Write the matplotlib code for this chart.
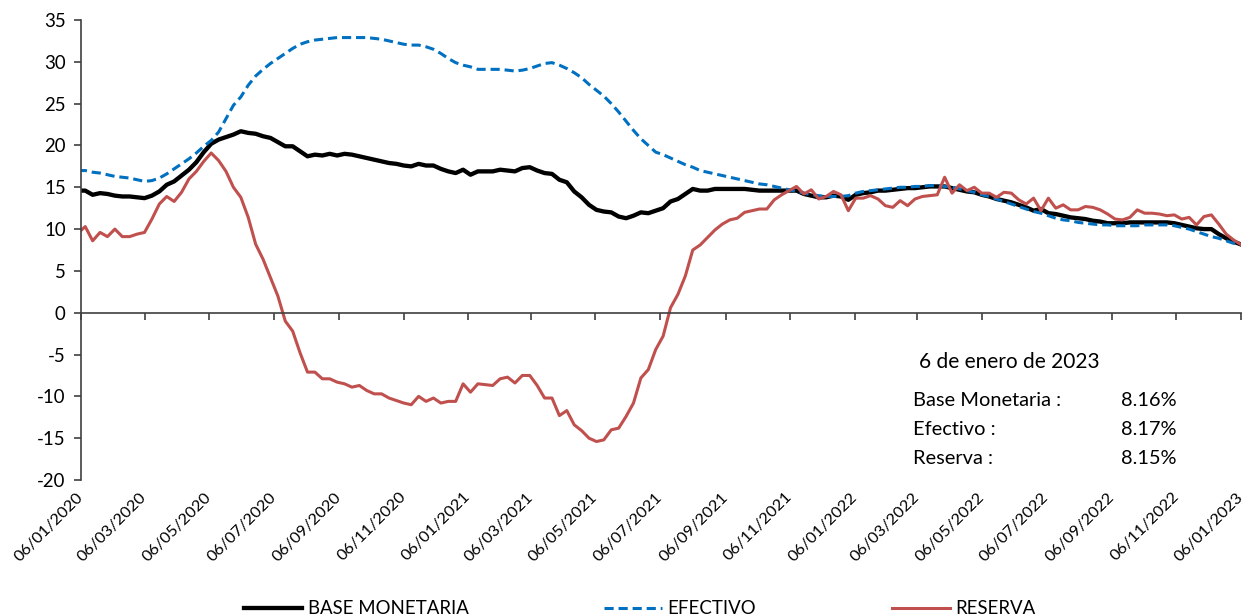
import numpy as np
import pandas as pd
import matplotlib
matplotlib.use("Agg")
import matplotlib.pyplot as plt
import matplotlib.dates as mdates
from matplotlib.lines import Line2D
import matplotlib.transforms as mtransforms

plt.rcParams['font.family'] = ['Lato', 'DejaVu Sans']
plt.rcParams['axes.unicode_minus'] = False

# variacion anual (%), datos semanales
fechas = pd.date_range('2020-01-03', '2023-01-06', freq='7D')

base_monetaria = [
    14.6, 14.6, 14.1, 14.3, 14.2, 14.0, 13.9, 13.9, 13.8, 13.7,
    14.0, 14.5, 15.3, 15.7, 16.4, 17.1, 18.0, 19.2, 20.2, 20.7,
    21.0, 21.3, 21.7, 21.5, 21.4, 21.1, 20.9, 20.4, 19.9, 19.9,
    19.3, 18.7, 18.9, 18.8, 19.0, 18.8, 19.0, 18.9, 18.7, 18.5,
    18.3, 18.1, 17.9, 17.8, 17.6, 17.5, 17.8, 17.6, 17.6, 17.2,
    16.9, 16.7, 17.1, 16.5, 16.9, 16.9, 16.9, 17.1, 17.0, 16.9,
    17.3, 17.4, 17.0, 16.7, 16.6, 15.9, 15.6, 14.5, 13.8, 12.9,
    12.3, 12.1, 12.0, 11.5, 11.3, 11.6, 12.0, 11.9, 12.2, 12.5,
    13.3, 13.6, 14.2, 14.8, 14.6, 14.6, 14.8, 14.8, 14.8, 14.8,
    14.8, 14.7, 14.6, 14.6, 14.6, 14.6, 14.6, 14.6, 14.2, 14.0,
    13.8, 13.8, 14.0, 13.9, 13.5, 14.1, 14.3, 14.4, 14.6, 14.6,
    14.7, 14.8, 14.9, 14.9, 15.0, 15.1, 15.1, 15.1, 14.9, 14.7,
    14.5, 14.4, 14.1, 13.9, 13.6, 13.4, 13.2, 12.9, 12.6, 12.2,
    12.4, 11.9, 11.8, 11.6, 11.4, 11.3, 11.2, 11.0, 10.9, 10.7,
    10.7, 10.7, 10.8, 10.8, 10.8, 10.8, 10.8, 10.8, 10.7, 10.5,
    10.3, 10.1, 10.0, 10.0, 9.4, 8.9, 8.5, 8.16]

efectivo = [
    17.0, 17.0, 16.8, 16.7, 16.5, 16.3, 16.2, 16.1, 15.9, 15.7,
    15.8, 16.1, 16.6, 17.2, 17.8, 18.4, 19.1, 19.9, 20.6, 21.6,
    23.2, 24.8, 25.8, 27.2, 28.3, 29.1, 29.8, 30.4, 31.0, 31.6,
    32.1, 32.4, 32.6, 32.7, 32.8, 32.9, 32.9, 32.9, 32.9, 32.9,
    32.8, 32.7, 32.5, 32.3, 32.1, 32.0, 32.0, 31.8, 31.5, 31.0,
    30.4, 29.9, 29.6, 29.4, 29.1, 29.1, 29.1, 29.1, 29.0, 28.9,
    29.0, 29.2, 29.5, 29.8, 29.9, 29.6, 29.2, 28.7, 28.1, 27.3,
    26.6, 25.9, 25.0, 24.0, 22.9, 21.8, 20.8, 20.0, 19.2, 18.9,
    18.5, 18.1, 17.7, 17.4, 17.0, 16.8, 16.6, 16.4, 16.2, 16.0,
    15.8, 15.6, 15.4, 15.3, 15.1, 14.9, 14.7, 14.5, 14.3, 14.1,
    14.0, 13.9, 13.9, 13.9, 14.0, 14.3, 14.5, 14.6, 14.7, 14.8,
    14.9, 15.0, 15.0, 15.1, 15.1, 15.2, 15.2, 15.1, 15.0, 14.8,
    14.6, 14.4, 14.1, 13.9, 13.6, 13.3, 13.0, 12.7, 12.4, 12.1,
    11.9, 11.6, 11.3, 11.1, 11.0, 10.8, 10.7, 10.6, 10.5, 10.5,
    10.4, 10.4, 10.4, 10.4, 10.5, 10.5, 10.5, 10.5, 10.4, 10.2,
    10.0, 9.7, 9.4, 9.1, 8.9, 8.6, 8.3, 8.17]

reserva = [
    9.5, 10.3, 8.6, 9.6, 9.1, 10.0, 9.1, 9.1, 9.4, 9.6,
    11.2, 13.0, 13.9, 13.3, 14.4, 16.0, 16.9, 18.1, 19.1, 18.2,
    16.9, 15.0, 13.8, 11.4, 8.2, 6.4, 4.2, 2.0, -1.0, -2.2,
    -4.8, -7.1, -7.1, -7.9, -7.9, -8.3, -8.5, -8.9, -8.7, -9.3,
    -9.7, -9.7, -10.2, -10.5, -10.8, -11.0, -10.0, -10.6, -10.2, -10.8,
    -10.6, -10.6, -8.5, -9.5, -8.5, -8.6, -8.7, -7.9, -7.7, -8.4,
    -7.5, -7.5, -8.7, -10.2, -10.2, -12.3, -11.7, -13.4, -14.1, -15.0,
    -15.4, -15.2, -14.0, -13.8, -12.4, -10.8, -7.8, -6.8, -4.4, -2.8,
    0.6, 2.2, 4.4, 7.5, 8.1, 9.0, 9.9, 10.6, 11.1, 11.3,
    12.0, 12.2, 12.4, 12.4, 13.5, 14.1, 14.6, 15.1, 14.2, 14.7,
    13.6, 13.9, 14.5, 14.1, 12.2, 13.7, 13.7, 14.0, 13.6, 12.8,
    12.6, 13.4, 12.8, 13.6, 13.9, 14.0, 14.1, 16.2, 14.3, 15.3,
    14.6, 15.0, 14.3, 14.3, 13.8, 14.4, 14.3, 13.5, 13.0, 13.7,
    12.2, 13.7, 12.5, 12.9, 12.3, 12.3, 12.7, 12.6, 12.3, 11.8,
    11.2, 11.1, 11.4, 12.3, 11.9, 11.9, 11.8, 11.6, 11.7, 11.2,
    11.4, 10.5, 11.5, 11.7, 10.6, 9.4, 8.7, 8.15]

fechas_ticks = pd.date_range('2020-01-01', '2023-01-01', freq='2MS') + pd.Timedelta(days=5)
etiquetas = [d.strftime('%d/%m/%Y') for d in fechas_ticks]

fig = plt.figure(figsize=(12.44, 6.16), dpi=100)
ax = fig.add_axes([81/1244, 1 - 480/616, 1160/1244, 460/616])

ax.plot(fechas, base_monetaria, color='black', lw=3.1, label='BASE MONETARIA')
ax.plot(fechas, efectivo, color='#0070C0', lw=2.2, dashes=(3, 1.6), label='EFECTIVO')
ax.plot(fechas, reserva, color='#C0504D', lw=2.2, label='RESERVA')

ax.set_xlim(pd.Timestamp('2020-01-06'), pd.Timestamp('2023-01-06'))
ax.set_ylim(-20, 35)
ax.set_yticks(np.arange(-20, 36, 5))
ax.set_xticks(fechas_ticks)
ax.set_xticklabels([])

for s in ['top', 'right']:
    ax.spines[s].set_visible(False)
ax.spines['bottom'].set_position(('data', 0))
for s in ['left', 'bottom']:
    ax.spines[s].set_color('#404040')
    ax.spines[s].set_linewidth(1.2)
ax.tick_params(axis='both', direction='out', length=5, width=1.2, color='#404040')
ax.tick_params(axis='y', labelsize=13.4, pad=6)

trans = mtransforms.blended_transform_factory(ax.transData, ax.transAxes)
for d, lab in zip(fechas_ticks, etiquetas):
    ax.annotate(lab, xy=(mdates.date2num(d), 0), xycoords=trans, xytext=(5, -10),
                textcoords='offset pixels', rotation=45, ha='right', va='top',
                fontsize=11.8, annotation_clip=False)

# recuadro con el dato de la ultima semana
fig.text(919/1244, 1 - 362/616, '6 de enero de 2023', fontsize=15, va='center', ha='left')
nombres = ['Base Monetaria :', 'Efectivo :', 'Reserva :']
ultimos = [base_monetaria[-1], efectivo[-1], reserva[-1]]
for j, (n, v) in enumerate(zip(nombres, ultimos)):
    yy = 1 - (401 + 28.5 * j) / 616
    fig.text(913/1244, yy, n, fontsize=14.4, va='center', ha='left')
    fig.text(1177/1244, yy, f'{v:.2f}%', fontsize=14.4, va='center', ha='right')

handles = [Line2D([], [], color='black', lw=3.1),
           Line2D([], [], color='#0070C0', lw=2.2, dashes=(3, 1.6)),
           Line2D([], [], color='#C0504D', lw=2.2)]
fig.legend(handles, ['BASE MONETARIA', 'EFECTIVO', 'RESERVA'], ncol=3,
           loc='center', bbox_to_anchor=(640/1244, 1 - 609/616), frameon=False,
           fontsize=13.4, handlelength=3.1, handletextpad=0.3, columnspacing=7.3,
           borderpad=0, borderaxespad=0)

fig.savefig('out.png', dpi=100)
